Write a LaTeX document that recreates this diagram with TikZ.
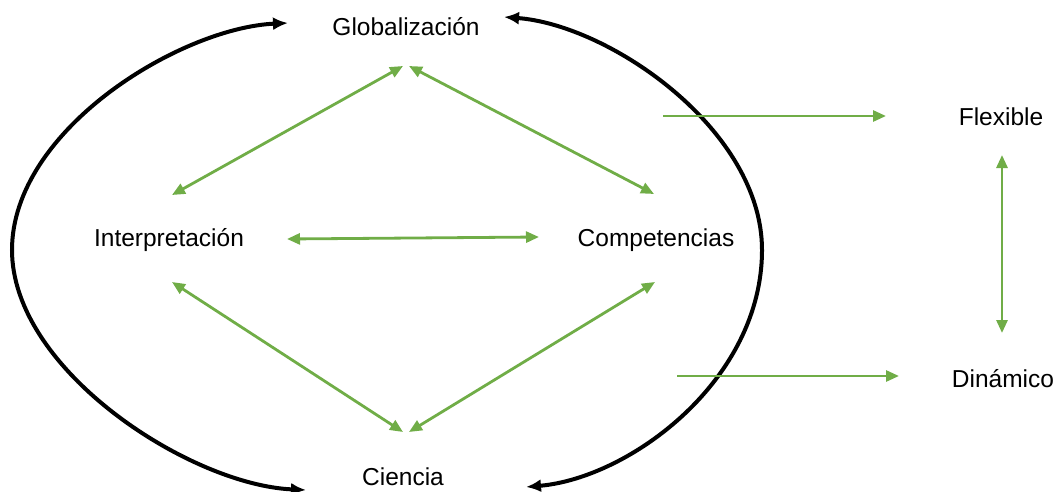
\documentclass[tikz,border=0pt]{standalone}
\usepackage{fontspec}
\setmainfont{Liberation Sans}
\usetikzlibrary{arrows.meta}
\definecolor{grn}{RGB}{112,173,71}
\tikzset{
  lbl/.style={font=\fontsize{24.5}{29}\selectfont, text=black, inner sep=0pt},
  garrow/.style={draw=grn, line width=2.8pt, -{Triangle[length=13pt,width=11pt]}},
  gboth/.style={draw=grn, line width=2.8pt, {Triangle[length=13pt,width=11pt]}-{Triangle[length=13pt,width=11pt]}},
  barrow/.style={draw=black, line width=4pt, {Latex[length=15pt,width=13pt]}-{Latex[length=15pt,width=13pt]}}
}
\begin{document}
\begin{tikzpicture}[x=1pt,y=-1pt]
\useasboundingbox (0,0) rectangle (1059,492);
% labels
\node[lbl] (glob) at (406,27) {Globalización};
\node[lbl] (interp) at (169,240) {Interpretación};
\node[lbl] (comp) at (656,240) {Competencias};
\node[lbl] (cien) at (403,477) {Ciencia};
\node[lbl] (flex) at (1001,117) {Flexible};
\node[lbl] (din) at (1003,379) {Dinámico};
% connector end points
\coordinate (gA) at (403,66);
\coordinate (gB) at (409,66);
\coordinate (iA) at (172,195);
\coordinate (iB) at (287,239);
\coordinate (iC) at (172,282);
\coordinate (cA) at (654,194);
\coordinate (cB) at (539,237);
\coordinate (cC) at (655,282);
\coordinate (sA) at (403,432);
\coordinate (sB) at (409,432);
\coordinate (fS) at (663,116);
\coordinate (fE) at (886,116);
\coordinate (dS) at (677,376);
\coordinate (dE) at (899,376);
\coordinate (fV) at (1002,155);
\coordinate (dV) at (1002,333);
\coordinate (lT) at (288,23);
\coordinate (lM) at (12,250);
\coordinate (lB) at (306,490);
\coordinate (rT) at (504,17);
\coordinate (rM) at (762,250);
\coordinate (rB) at (526,487);
% black loops
\draw[barrow] (lT) .. controls (180,28) and (12,130) .. (lM) .. controls (12,370) and (190,485) .. (lB);
\draw[barrow] (rT) .. controls (610,25) and (762,130) .. (rM) .. controls (762,380) and (630,478) .. (rB);
% green connectors
\draw[gboth] (gA) -- (iA);
\draw[gboth] (gB) -- (cA);
\draw[gboth] (iB) -- (cB);
\draw[gboth] (iC) -- (sA);
\draw[gboth] (cC) -- (sB);
\draw[garrow] (fS) -- (fE);
\draw[garrow] (dS) -- (dE);
\draw[gboth] (fV) -- (dV);
\end{tikzpicture}
\end{document}
